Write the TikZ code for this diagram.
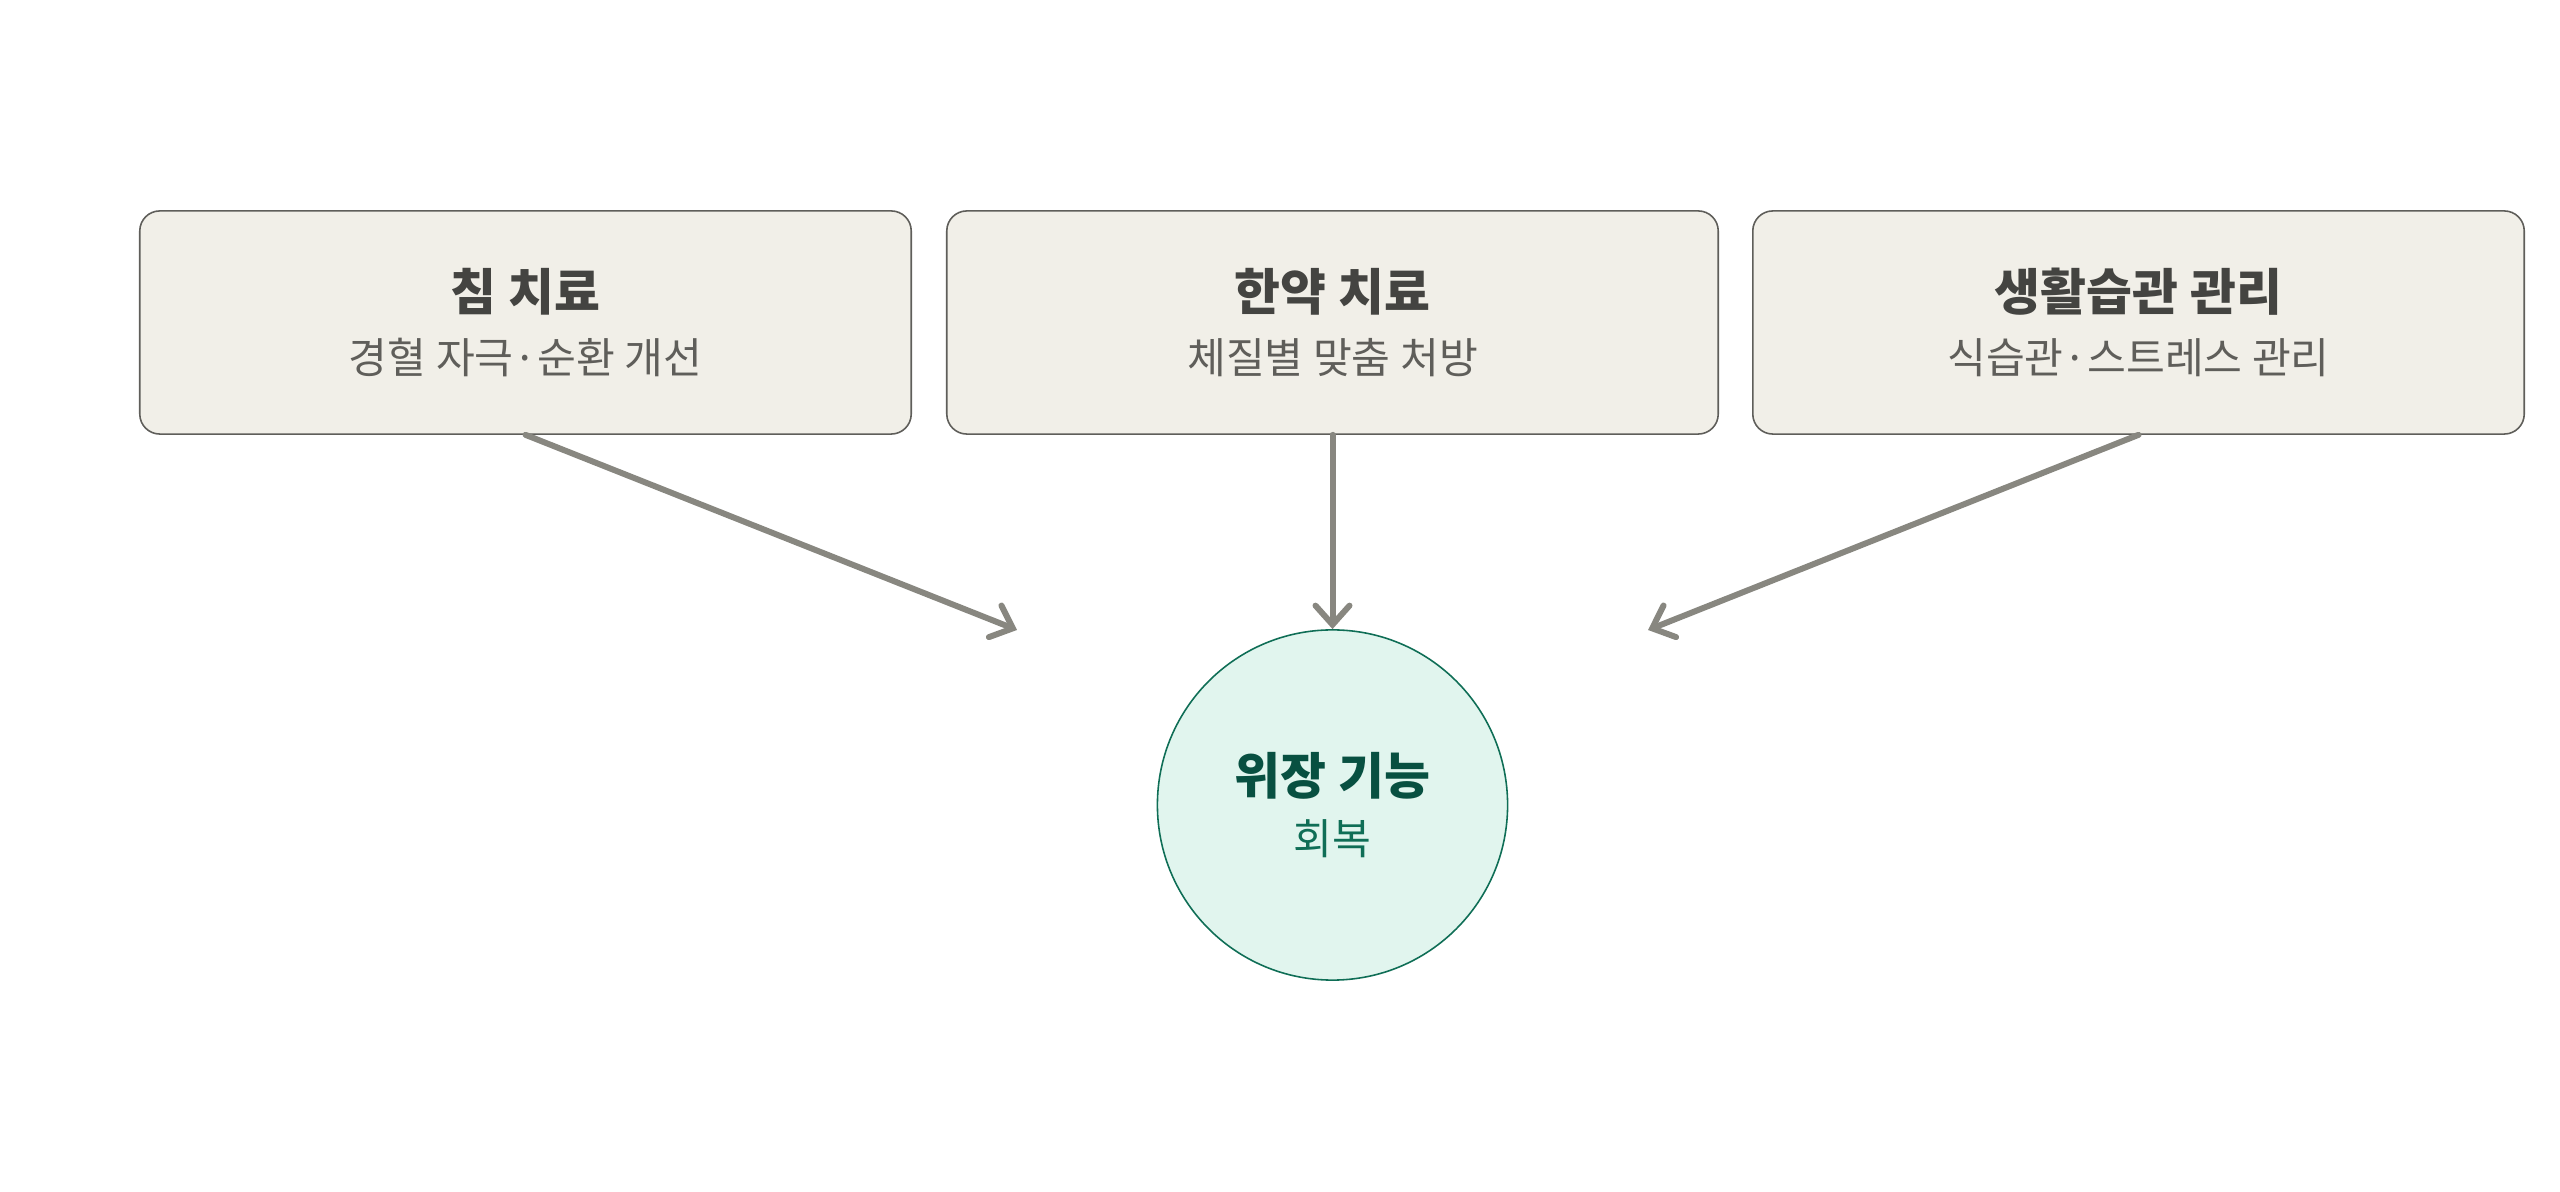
\documentclass[tikz,border=0pt]{standalone}
\usepackage{fontspec}
\setmainfont{Noto Sans CJK KR}
\usepackage{xcolor}
\usepackage{tikz}
\usetikzlibrary{arrows.meta, positioning}
\definecolor{beige}{HTML}{F1EFE8}
\definecolor{borde}{HTML}{5F5E5A}
\definecolor{titulo}{HTML}{444441}
\definecolor{subtitulo}{HTML}{5F5E5A}
\definecolor{flechagris}{HTML}{888780}
\definecolor{verdeclaro}{HTML}{E1F5EE}
\definecolor{verde}{HTML}{0F6E56}
\definecolor{verdeoscuro}{HTML}{085041}
\tikzset{
  sangja/.style={rectangle, rounded corners=0.2cm, draw=borde, line width=0.45pt,
    fill=beige, minimum width=7.71cm, minimum height=2.23cm, inner sep=0pt,
    align=center},
  won/.style={circle, draw=verde, line width=0.45pt, fill=verdeclaro,
    minimum size=3.5cm, inner sep=0pt, align=center},
  hwasal/.style={-{Straight Barb[length=0.19cm, width=0.34cm, line cap=round]},
    line width=1.7pt, line cap=round, flechagris}
}
\newcommand{\jemok}[1]{{\fontsize{14.2pt}{16pt}\selectfont\bfseries\color{titulo}#1}}
\newcommand{\seolmyeong}[1]{{\fontsize{12pt}{14pt}\selectfont\color{subtitulo}#1}}

\begin{document}
\begin{tikzpicture}[x=0.01cm, y=-0.01cm]
  \useasboundingbox (0,0) rectangle (2560,1192);

  % --- Cajas de tratamiento ---
  \node[sangja] (chim)    at (525.5,322.5)  {\jemok{침 치료}\\[0.2cm]\seolmyeong{경혈 자극·순환 개선}};
  \node[sangja] (hanyak)  at (1332.5,322.5) {\jemok{한약 치료}\\[0.2cm]\seolmyeong{체질별 맞춤 처방}};
  \node[sangja] (saenghwal) at (2138.5,322.5) {\jemok{생활습관 관리}\\[0.2cm]\seolmyeong{식습관·스트레스 관리}};

  % --- Resultado ---
  \node[won] (hoebok) at (1332.5,805)
    {\raisebox{-0.05cm}{\fontsize{14.2pt}{16pt}\selectfont\bfseries\color{verdeoscuro}위장 기능}\\[0.16cm]{\fontsize{12pt}{14pt}\selectfont\color{verde}회복}};

  % puntas libres de las flechas laterales
  \coordinate (left-end)  at (1017,630);
  \coordinate (right-end) at (1648,630);

  % --- Flechas ---
  \draw[hwasal] (chim.south)      -- (left-end);
  \draw[hwasal] (hanyak.south)    -- (hoebok.north);
  \draw[hwasal] (saenghwal.south) -- (right-end);

\end{tikzpicture}
\end{document}
